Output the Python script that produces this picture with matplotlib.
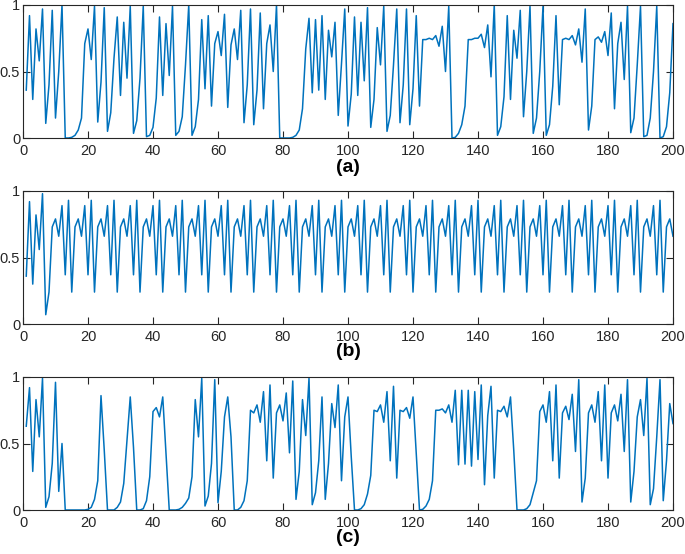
import numpy as np
import matplotlib.pyplot as plt

plt.rcParams["font.family"] = ["Liberation Sans", "DejaVu Sans"]

# values, n = 1..200
series_a = [
    0.36, 0.92, 0.29, 0.82, 0.58, 0.97, 0.11, 0.40, 0.96, 0.15,
    0.50, 1.00, 0.00, 0.00, 0.005, 0.02, 0.06, 0.15, 0.71, 0.82,
    0.59, 0.99, 0.12, 0.42, 0.98, 0.05, 0.19, 0.60, 0.91, 0.32,
    0.87, 0.45, 0.99, 0.035, 0.13, 0.45, 0.99, 0.01, 0.02, 0.08,
    0.30, 0.91, 0.32, 0.86, 0.47, 0.99, 0.02, 0.05, 0.16, 0.55,
    1.00, 0.02, 0.085, 0.29, 0.89, 0.37, 0.92, 0.24, 0.71, 0.80,
    0.62, 0.93, 0.23, 0.70, 0.82, 0.59, 0.96, 0.115, 0.40, 0.97,
    0.10, 0.36, 0.94, 0.22, 0.71, 0.85, 0.50, 1.00, 0.00, 0.00,
    0.00, 0.00, 0.005, 0.02, 0.06, 0.22, 0.67, 0.90, 0.34, 0.89,
    0.36, 0.92, 0.29, 0.81, 0.61, 0.87, 0.17, 0.56, 0.97, 0.09,
    0.33, 0.91, 0.32, 0.87, 0.43, 0.98, 0.08, 0.29, 0.83, 0.55,
    0.99, 0.05, 0.17, 0.55, 0.97, 0.115, 0.40, 0.97, 0.10, 0.37,
    0.92, 0.24, 0.74, 0.74, 0.75, 0.74, 0.77, 0.69, 0.84, 0.50,
    0.99, 0.00, 0.005, 0.035, 0.10, 0.24, 0.74, 0.74, 0.75, 0.75,
    0.78, 0.68, 0.85, 0.46, 1.00, 0.02, 0.085, 0.31, 0.92, 0.29,
    0.81, 0.60, 0.96, 0.16, 0.50, 0.99, 0.035, 0.15, 0.50, 0.99,
    0.02, 0.10, 0.39, 0.92, 0.25, 0.74, 0.75, 0.74, 0.77, 0.70,
    0.82, 0.57, 0.97, 0.06, 0.24, 0.74, 0.76, 0.72, 0.80, 0.62,
    0.94, 0.22, 0.71, 0.87, 0.44, 0.99, 0.04, 0.15, 0.55, 0.99,
    0.01, 0.02, 0.15, 0.50, 0.99, 0.00, 0.01, 0.085, 0.34, 0.86,
]

series_b = [
    0.36, 0.92, 0.30, 0.82, 0.56, 0.98, 0.07,
    0.24, 0.73, 0.79, 0.66, 0.89, 0.37, 0.93,
    0.24, 0.73, 0.79, 0.66, 0.89, 0.37, 0.93,
    0.24, 0.73, 0.79, 0.66, 0.89, 0.37, 0.93,
    0.24, 0.73, 0.79, 0.66, 0.89, 0.37, 0.93,
    0.24, 0.73, 0.79, 0.66, 0.89, 0.37, 0.93,
    0.24, 0.73, 0.79, 0.66, 0.89, 0.37, 0.93,
    0.24, 0.73, 0.79, 0.66, 0.89, 0.37, 0.93,
    0.24, 0.73, 0.79, 0.66, 0.89, 0.37, 0.93,
    0.24, 0.73, 0.79, 0.66, 0.89, 0.37, 0.93,
    0.24, 0.73, 0.79, 0.66, 0.89, 0.37, 0.93,
    0.24, 0.73, 0.79, 0.66, 0.89, 0.37, 0.93,
    0.24, 0.73, 0.79, 0.66, 0.89, 0.37, 0.93,
    0.24, 0.73, 0.79, 0.66, 0.89, 0.37, 0.93,
    0.24, 0.73, 0.79, 0.66, 0.89, 0.37, 0.93,
    0.24, 0.73, 0.79, 0.66, 0.89, 0.37, 0.93,
    0.24, 0.73, 0.79, 0.66, 0.89, 0.37, 0.93,
    0.24, 0.73, 0.79, 0.66, 0.89, 0.37, 0.93,
    0.24, 0.73, 0.79, 0.66, 0.89, 0.37, 0.93,
    0.24, 0.73, 0.79, 0.66, 0.89, 0.37, 0.93,
    0.24, 0.73, 0.79, 0.66, 0.89, 0.37, 0.93,
    0.24, 0.73, 0.79, 0.66, 0.89, 0.37, 0.93,
    0.24, 0.73, 0.79, 0.66, 0.89, 0.37, 0.93,
    0.24, 0.73, 0.79, 0.66, 0.89, 0.37, 0.93,
    0.24, 0.73, 0.79, 0.66, 0.89, 0.37, 0.93,
    0.24, 0.73, 0.79, 0.66, 0.89, 0.37, 0.93,
    0.24, 0.73, 0.79, 0.66, 0.89, 0.37, 0.93,
    0.24, 0.73, 0.79, 0.66, 0.89, 0.37, 0.93,
    0.24, 0.73, 0.79, 0.66,
]

series_c = [
    0.63, 0.92, 0.29, 0.83, 0.55, 0.99, 0.02, 0.10, 0.35, 0.96,
    0.14, 0.50, 0.00, 0.00, 0.00, 0.00, 0.00, 0.00, 0.00, 0.005,
    0.02, 0.08, 0.22, 0.86, 0.45, 0.00, 0.00, 0.00, 0.02, 0.06,
    0.20, 0.52, 0.85, 0.47, 0.00, 0.00, 0.01, 0.07, 0.25, 0.74,
    0.77, 0.70, 0.85, 0.42, 0.00, 0.00, 0.00, 0.005, 0.02, 0.05,
    0.09, 0.25, 0.83, 0.55, 0.99, 0.03, 0.105, 0.35, 0.98, 0.055,
    0.29, 0.70, 0.85, 0.55, 0.00, 0.00, 0.02, 0.07, 0.22, 0.75,
    0.73, 0.79, 0.66, 0.89, 0.37, 0.94, 0.24, 0.73, 0.79, 0.67,
    0.88, 0.43, 0.97, 0.08, 0.29, 0.83, 0.56, 0.99, 0.04, 0.13,
    0.37, 0.85, 0.08, 0.35, 0.80, 0.62, 0.94, 0.22, 0.70, 0.85,
    0.40, 0.00, 0.00, 0.01, 0.04, 0.12, 0.26, 0.75, 0.74, 0.79,
    0.66, 0.89, 0.37, 0.93, 0.24, 0.75, 0.74, 0.77, 0.69, 0.85,
    0.42, 0.00, 0.005, 0.03, 0.08, 0.22, 0.75, 0.75, 0.76, 0.73,
    0.79, 0.66, 0.90, 0.34, 0.90, 0.345, 0.90, 0.33, 0.89, 0.38,
    0.94, 0.19, 0.71, 0.93, 0.24, 0.75, 0.74, 0.78, 0.70, 0.85,
    0.45, 0.00, 0.00, 0.00, 0.01, 0.04, 0.13, 0.22, 0.74, 0.79,
    0.66, 0.89, 0.37, 0.94, 0.24, 0.73, 0.78, 0.68, 0.87, 0.44,
    0.98, 0.06, 0.24, 0.73, 0.79, 0.66, 0.89, 0.37, 0.94, 0.24,
    0.73, 0.79, 0.67, 0.87, 0.44, 0.98, 0.06, 0.29, 0.70, 0.83,
    0.56, 0.99, 0.04, 0.16, 0.55, 0.98, 0.07, 0.37, 0.80, 0.65,
]

panel_labels = ["(a)", "(b)", "(c)"]
x_ticks = [0, 20, 40, 60, 80, 100, 120, 140, 160, 180, 200]
y_ticks = [0, 0.5, 1]
y_tick_labels = ["0", "0.5", "1"]

W, H = 685, 554
fig = plt.figure(figsize=(W / 100, H / 100), dpi=100)

# axes boxes in pixels: (top, bottom)
boxes = [(5, 138), (191, 324), (377, 510)]
label_y = [167, 352, 537]
left_px, right_px = 23, 673

for series, (top, bot), lab, ly in zip([series_a, series_b, series_c], boxes, panel_labels, label_y):
    ax = fig.add_axes([left_px / W, 1 - bot / H, (right_px - left_px) / W, (bot - top) / H])
    n = np.arange(1, len(series) + 1)
    ax.plot(n, series, color="#0072BD", lw=1.1)
    ax.set_xlim(0, 200)
    ax.set_ylim(0, 1)
    ax.set_xticks(x_ticks)
    ax.set_yticks(y_ticks)
    ax.set_yticklabels(y_tick_labels)
    ax.tick_params(direction="in", length=5, width=0.8, top=True, right=True,
                   labelsize=10.5, colors="#262626")
    ax.tick_params(axis="y", pad=2)
    ax.tick_params(axis="x", pad=4)
    for s in ax.spines.values():
        s.set_color("#262626")
        s.set_linewidth(0.8)
    fig.text((left_px + right_px) / 2 / W, 1 - ly / H, lab, ha="center", va="center",
             fontsize=14, fontweight="bold")

plt.savefig("out.png", dpi=100)
